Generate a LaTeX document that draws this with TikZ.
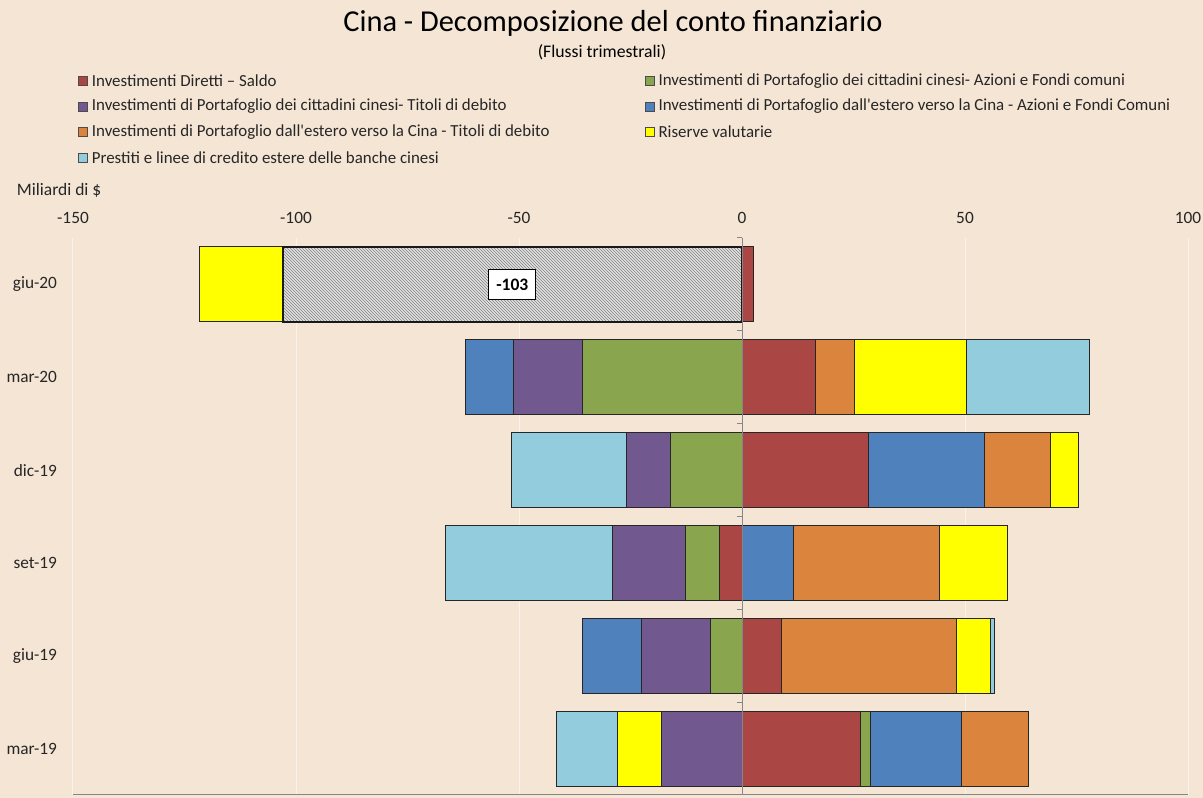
\documentclass[tikz,border=0pt]{standalone}
\usepackage{fontspec}
\setmainfont{Carlito}
\usepackage{xcolor}
\usepackage{tikz}
\usetikzlibrary{patterns}

\definecolor{chartbg}{HTML}{F5E5D5}
\definecolor{cred}{HTML}{AA4643}
\definecolor{cgreen}{HTML}{89A54E}
\definecolor{cpurple}{HTML}{71588F}
\definecolor{cblue}{HTML}{4F81BD}
\definecolor{corange}{HTML}{DB843D}
\definecolor{cyellow}{HTML}{FFFF00}
\definecolor{clight}{HTML}{93CDDD}
\definecolor{axisgray}{HTML}{868686}

\tikzset{
  seg/.style={draw=black!85, line width=0.9pt},
  gridline/.style={draw=white!55!chartbg, line width=1pt},
  axisline/.style={draw=axisgray, line width=1pt},
  ticklab/.style={font=\fontsize{17.3}{20}\selectfont, text=black!85},
  catlab/.style={font=\fontsize{17.3}{20}\selectfont, text=black!85, anchor=east},
  legtext/.style={font=\fontsize{16.9}{20}\selectfont, text=black!85, anchor=west, inner sep=0pt},
  legbox/.style={draw=black!70, line width=0.8pt, minimum size=9pt, inner sep=0pt},
}

\begin{document}
\begin{tikzpicture}[x=1pt, y=-1pt]
\fill[chartbg] (0,0) rectangle (1203,798);
\useasboundingbox (0,0) rectangle (1203,798);

\node (title) at (613,23) {\fontsize{30.4}{35}\selectfont Cina - Decomposizione del conto finanziario};
\node (subtitle) at (602,52) {\fontsize{17.7}{20}\selectfont (Flussi trimestrali)};

% legenda
\foreach \i/\c/\t in {0/cred/Investimenti Diretti – Saldo,
    1/cpurple/Investimenti di Portafoglio dei cittadini cinesi- Titoli di debito,
    2/corange/Investimenti di Portafoglio dall\textquotesingle{}estero verso la Cina - Titoli di debito,
    3/clight/Prestiti e linee di credito estere delle banche cinesi}
{
    \node[legbox, fill=\c] (lbox\i) at (82.8,81+25.5*\i) {};
    \node[legtext] (ltext\i) at (91.7,81+25.5*\i) {\t};
}
\foreach \i/\c/\t in {0/cgreen/Investimenti di Portafoglio dei cittadini cinesi- Azioni e Fondi comuni,
    1/cblue/Investimenti di Portafoglio dall\textquotesingle{}estero verso la Cina - Azioni e Fondi Comuni,
    2/cyellow/Riserve valutarie}
{
    \node[legbox, fill=\c] (rbox\i) at (650.3,81+25.5*\i) {};
    \node[legtext] (rtext\i) at (658.3,81+25.5*\i) {\t};
}

\node[legtext, font=\fontsize{17.5}{20}\selectfont] (unit) at (16.7,190) {Miliardi di \$};

\begin{scope}[shift={(742,284.4)}, x=4.46pt, y=-92.83pt]
\foreach \v in {-150,-100,-50,50,100}
{
    \draw[gridline] (\v,-0.5) -- (\v,5.5);
}
\foreach \v in {-150,-100,...,100}
{
    \node[ticklab] (tick\v) at (\v,-0.72) {\v};
}
\foreach \r/\lab in {0/giu-20, 1/mar-20, 2/dic-19, 3/set-19, 4/giu-19, 5/mar-19}
{
    \node[catlab] (cat\r) at (-152.8,\r) {\lab};
}

% barre
\foreach \r/\a/\b/\c in {
    0/0/2.5/cred, 0/-103/-121.6/cyellow,
    1/0/-35.7/cgreen, 1/-35.7/-51.2/cpurple, 1/-51.2/-61.9/cblue,
    1/0/16.4/cred, 1/16.4/25.3/corange, 1/25.3/50.3/cyellow, 1/50.3/77.9/clight,
    2/0/-16.1/cgreen, 2/-16.1/-26.0/cpurple, 2/-26.0/-51.7/clight,
    2/0/28.3/cred, 2/28.3/54.3/cblue, 2/54.3/69.2/corange, 2/69.2/75.4/cyellow,
    3/0/-5.0/cred, 3/-5.0/-12.7/cgreen, 3/-12.7/-29.1/cpurple, 3/-29.1/-66.4/clight,
    3/0/11.5/cblue, 3/11.5/44.2/corange, 3/44.2/59.6/cyellow,
    4/0/-7.1/cgreen, 4/-7.1/-22.6/cpurple, 4/-22.6/-35.8/cblue,
    4/0/8.8/cred, 4/8.8/48.1/corange, 4/48.1/55.8/cyellow, 4/55.8/56.5/clight,
    5/0/-18.0/cpurple, 5/-18.0/-28.0/cyellow, 5/-28.0/-41.6/clight,
    5/0/26.6/cred, 5/26.6/28.8/cgreen, 5/28.8/49.1/cblue, 5/49.1/64.3/corange}
{
    \filldraw[seg, fill=\c] (\a,\r-0.404) rectangle (\b,\r+0.404);
}

% saldo giu-20
\fill[gray!22] (0,-0.404) rectangle (-103,0.404);
\fill[pattern=north west lines, pattern color=black!50] (0,-0.404) rectangle (-103,0.404);
\draw[black!90, line width=2pt] (0,-0.404) rectangle (-103,0.404);
\node[draw=black, line width=1.3pt, fill=white, inner sep=0pt, minimum width=47pt, minimum height=30pt,
    font=\bfseries\fontsize{17.5}{20}\selectfont] (saldo) at (-51.5,0) {-103};

% assi
\draw[axisline] (0,-0.5) -- (0,5.5);
\foreach \k in {-0.5,0.5,...,5.5}
{
    \draw[axisline] (0,\k) -- ++(-5pt,0);
}
\draw[axisline] (-150,5.5) -- (100,5.5);
\end{scope}
\end{tikzpicture}
\end{document}
